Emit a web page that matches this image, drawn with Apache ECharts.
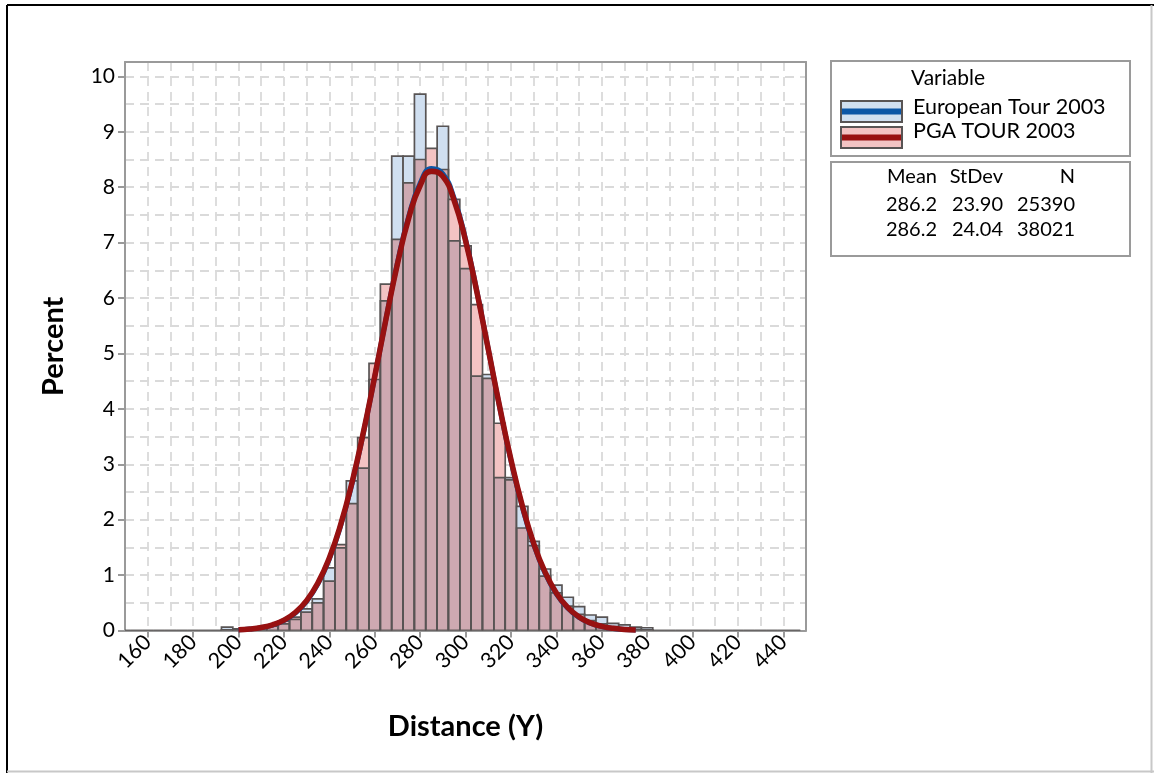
<!DOCTYPE html>
<html><head><meta charset="utf-8">
<script src="https://cdn.jsdelivr.net/npm/echarts@6/dist/echarts.min.js"></script>
<style>html,body{margin:0;padding:0;background:#fff}#chart{width:1154px;height:773px}</style>
</head><body><div id="chart"></div>
<script>
// ---- data ----
const binCenters = [150,155,160,165,170,175,180,185,190,195,200,205,210,215,220,225,230,235,240,245,250,255,260,265,270,275,280,285,290,295,300,305,310,315,320,325,330,335,340,345,350,355,360,365,370,375,380,385,390,395,400,405,410,415,420,425,430,435,440,445];
const euroPct = [0,0,0,0,0,0,0,0,0,0.06,0.03,0.04,0.06,0.08,0.12,0.20,0.39,0.57,1.13,1.49,2.70,2.93,4.53,5.95,8.56,8.56,9.68,8.25,9.10,7.03,6.53,4.59,4.62,2.76,2.76,2.24,1.61,1.11,0.82,0.60,0.43,0.28,0.24,0.13,0.10,0.06,0.05,0,0,0,0,0,0,0,0,0,0,0,0,0];
const pgaPct  = [0,0,0,0,0,0,0,0,0,0.01,0.02,0.03,0.05,0.10,0.17,0.24,0.33,0.50,0.89,1.55,2.29,3.48,4.82,6.25,7.06,8.08,8.50,8.70,8.32,7.78,6.94,5.88,4.55,3.74,2.72,1.85,1.53,0.98,0.68,0.44,0.29,0.18,0.12,0.07,0.04,0.02,0.01,0,0,0,0,0,0,0,0,0,0,0,0,0];
const curveX  = [200,205,210,215,220,225,230,235,240,245,250,255,260,265,270,275,280,285,290,295,300,305,310,315,320,325,330,335,340,345,350,355,360,365,370,375];
const euroFit = [0.013,0.026,0.052,0.099,0.180,0.314,0.526,0.841,1.289,1.889,2.650,3.560,4.577,5.632,6.633,7.478,8.070,8.336,8.241,7.800,7.065,6.125,5.084,4.038,3.070,2.234,1.557,1.038,0.662,0.405,0.237,0.133,0.071,0.036,0.018,0.008];
const pgaFit  = [0.013,0.028,0.055,0.103,0.187,0.325,0.540,0.859,1.309,1.911,2.670,3.575,4.582,5.625,6.613,7.445,8.027,8.288,8.195,7.760,7.038,6.112,5.083,4.049,3.089,2.256,1.578,1.057,0.678,0.417,0.245,0.138,0.075,0.039,0.019,0.009];
const xTicks = [160,180,200,220,240,260,280,300,320,340,360,380,400,420,440];
const yTicks = [0,1,2,3,4,5,6,7,8,9,10];
const seriesNames = ['European Tour 2003','PGA TOUR 2003'];
const statHeader = ['Mean','StDev','N'];
const statMean = ['286.2','286.2'];
const statStDev = ['23.90','24.04'];
const statN = ['25390','38021'];

// ---- styles ----
const BIN = 5;
const BLUE = '#d0dff0', PINK = '#f3c3c3', MAUVE = '#cea9b1', EDGE = '#585454';
const BLUE_LINE = '#0b56a6', RED_LINE = '#981111';
const FRAME = '#9a9a9a';
const FONT = 'Lato';
const gridLine = {show:true, lineStyle:{color:'#dadada', width:1.8, type:[9,6]}};

const chart = echarts.init(document.getElementById('chart'));
const histData = binCenters.map((c,i)=>[c, euroPct[i], pgaPct[i]]);

function renderBin(params, api){
  const c = api.value(0), e = api.value(1), p = api.value(2);
  const lo = Math.min(e,p), hi = Math.max(e,p);
  const r = (y0,y1)=>{
    const a = api.coord([c-BIN/2, y1]), b = api.coord([c+BIN/2, y0]);
    return {x:a[0], y:a[1], width:b[0]-a[0], height:b[1]-a[1]};
  };
  const ch = [];
  if (lo > 0) ch.push({type:'rect', shape:r(0,lo), style:{fill:MAUVE}});
  if (hi > lo) ch.push({type:'rect', shape:r(lo,hi), style:{fill: e>p ? BLUE : PINK}});
  ch.push({type:'rect', shape:r(0,e), style:{fill:'none', stroke:EDGE, lineWidth:1.7}});
  ch.push({type:'rect', shape:r(0,p), style:{fill:'none', stroke:EDGE, lineWidth:1.7}});
  return {type:'group', children:ch};
}

const txt = (x,y,s,align,size,weight)=>({type:'text', x, y, style:{text:s, fill:'#000', font:(weight||'normal')+' '+(size||20)+'px '+FONT, textAlign:align||'left', textVerticalAlign:'middle'}, z:20});

const graphics = [
  {type:'line', shape:{x1:7,y1:5,x2:1154,y2:5}, style:{stroke:'#000', lineWidth:2}, z:20},
  {type:'line', shape:{x1:7,y1:5,x2:7,y2:773}, style:{stroke:'#000', lineWidth:2}, z:20},
  {type:'line', shape:{x1:7,y1:771.5,x2:1154,y2:771.5}, style:{stroke:'#c8c8c8', lineWidth:2}, z:20},
  {type:'line', shape:{x1:1151.5,y1:5,x2:1151.5,y2:773}, style:{stroke:'#c8c8c8', lineWidth:2}, z:20},
  // legend box 1
  {type:'rect', shape:{x:831,y:61,width:299,height:95}, style:{fill:'#fff', stroke:FRAME, lineWidth:2}, z:15},
  txt(911,78,'Variable',null,21),
  {type:'rect', shape:{x:841,y:101,width:61,height:21}, style:{fill:BLUE, stroke:EDGE, lineWidth:2}, z:20},
  {type:'line', shape:{x1:842,y1:111.5,x2:901,y2:111.5}, style:{stroke:BLUE_LINE, lineWidth:6}, z:21},
  {type:'rect', shape:{x:841,y:127,width:61,height:21}, style:{fill:PINK, stroke:EDGE, lineWidth:2}, z:20},
  {type:'line', shape:{x1:842,y1:137.5,x2:901,y2:137.5}, style:{stroke:RED_LINE, lineWidth:6}, z:21},
  txt(913,107,seriesNames[0],null,21.5),
  txt(913,131,seriesNames[1],null,21.5),
  // legend box 2
  {type:'rect', shape:{x:831,y:162,width:299,height:94}, style:{fill:'#fff', stroke:FRAME, lineWidth:2}, z:15},
  txt(937,177,statHeader[0],'right'),
  txt(1003,177,statHeader[1],'right'),
  txt(1075,177,statHeader[2],'right'),
  txt(937,205,statMean[0],'right'), txt(1003,205,statStDev[0],'right'), txt(1075,205,statN[0],'right'),
  txt(937,230,statMean[1],'right'), txt(1003,230,statStDev[1],'right'), txt(1075,230,statN[1],'right')
];

chart.setOption({
  animation:false,
  backgroundColor:'#fff',
  grid:{left:125, right:348, top:62, bottom:142.5, show:false, containLabel:false, outerBoundsMode:'none'},
  xAxis:[
    {type:'value', min:150, max:450,
     axisLine:{show:true, onZero:false, lineStyle:{color:FRAME, width:2}},
     axisTick:{show:true, customValues:xTicks, length:7, lineStyle:{color:FRAME, width:2}},
     axisLabel:{customValues:xTicks, rotate:45, fontSize:21.5, color:'#000', fontFamily:FONT, margin:8, hideOverlap:false},
     splitLine:{show:false},
     name:'Distance (Y)', nameLocation:'middle', nameGap:82,
     nameTextStyle:{fontWeight:'bold', fontSize:29, fontFamily:FONT, color:'#000'}},
    {type:'value', min:150, max:450, interval:10, position:'top',
     axisLine:{show:true, onZero:false, lineStyle:{color:FRAME, width:2}}, axisTick:{show:false}, axisLabel:{show:false}, splitLine:gridLine}
  ],
  yAxis:[
    {type:'value', min:0, max:10.26,
     axisLine:{show:true, onZero:false, lineStyle:{color:FRAME, width:2}},
     axisTick:{show:true, customValues:yTicks, length:7, lineStyle:{color:FRAME, width:2}},
     axisLabel:{customValues:yTicks, fontSize:21, color:'#000', fontFamily:FONT, margin:10},
     splitLine:{show:false},
     name:'Percent', nameLocation:'middle', nameGap:57,
     nameTextStyle:{fontWeight:'bold', fontSize:29, fontFamily:FONT, color:'#000'}},
    {type:'value', min:0, max:10.26, interval:0.5, position:'right',
     axisLine:{show:true, onZero:false, lineStyle:{color:FRAME, width:2}}, axisTick:{show:false}, axisLabel:{show:false}, splitLine:gridLine}
  ],
  series:[
    {type:'custom', name:'hist', xAxisIndex:0, yAxisIndex:0, data:histData, renderItem:renderBin, clip:true, z:2,
     encode:{x:0, y:[1,2]}},
    {type:'line', name:seriesNames[0], xAxisIndex:0, yAxisIndex:0, data:curveX.map((x,i)=>[x,euroFit[i]]),
     smooth:true, symbol:'none', lineStyle:{color:BLUE_LINE, width:5}, z:3},
    {type:'line', name:seriesNames[1], xAxisIndex:0, yAxisIndex:0, data:curveX.map((x,i)=>[x,pgaFit[i]]),
     smooth:true, symbol:'none', lineStyle:{color:RED_LINE, width:5.5}, z:4}
  ],
  graphic:graphics
});
</script></body></html>
